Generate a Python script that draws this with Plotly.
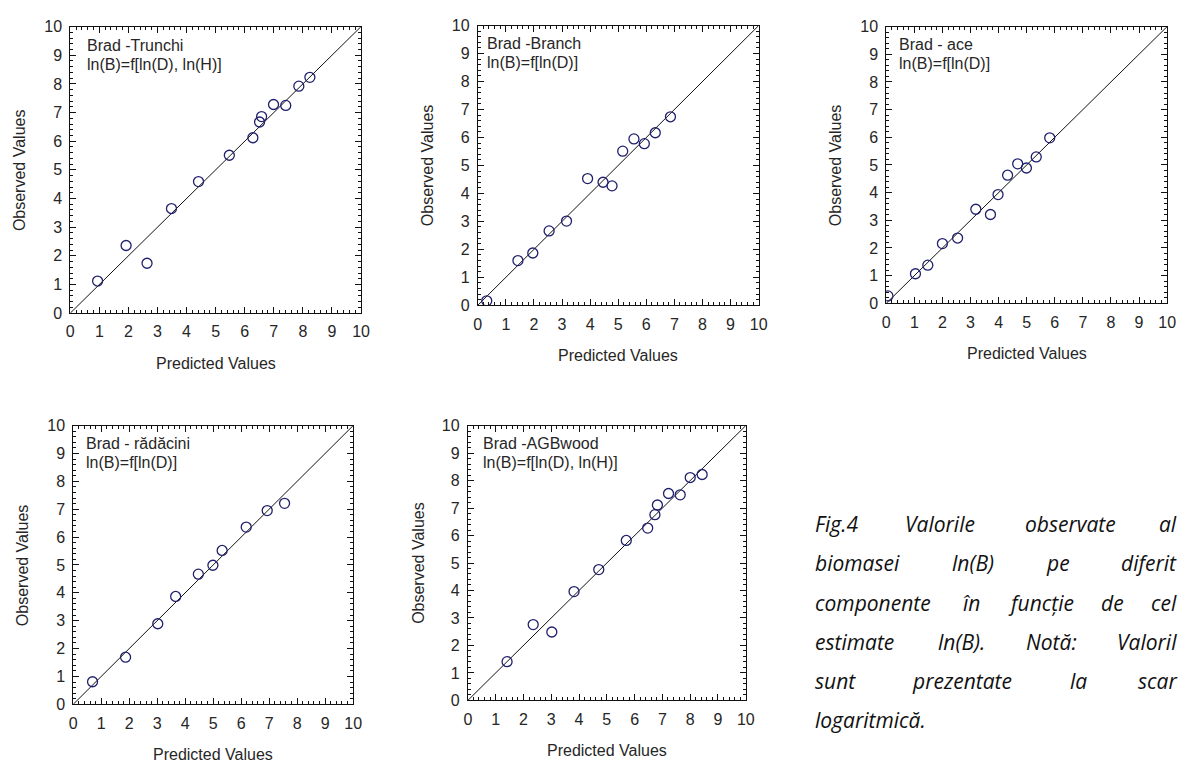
import plotly.graph_objects as go

# Observed vs. predicted ln(B) for each fir (Brad) biomass component
trunchi_pred = [0.94, 1.92, 2.64, 3.48, 4.41, 5.47, 6.28, 6.51, 6.58, 6.99, 7.41, 7.86, 8.24]
trunchi_obs = [1.12, 2.36, 1.74, 3.65, 4.59, 5.51, 6.12, 6.67, 6.86, 7.28, 7.25, 7.92, 8.23]

branch_pred = [0.32, 1.43, 1.96, 2.54, 3.16, 3.91, 4.46, 4.78, 5.16, 5.56, 5.93, 6.32, 6.86]
branch_obs = [0.16, 1.60, 1.87, 2.66, 3.01, 4.53, 4.40, 4.27, 5.51, 5.95, 5.78, 6.17, 6.74]

ace_pred = [0.06, 1.04, 1.48, 2.00, 2.54, 3.19, 3.71, 3.98, 4.32, 4.68, 4.99, 5.34, 5.82]
ace_obs = [0.27, 1.07, 1.38, 2.16, 2.36, 3.40, 3.21, 3.93, 4.63, 5.04, 4.89, 5.29, 5.98]

radacini_pred = [0.69, 1.87, 3.02, 3.66, 4.47, 4.99, 5.32, 6.18, 6.93, 7.55]
radacini_obs = [0.81, 1.69, 2.89, 3.87, 4.67, 4.99, 5.52, 6.36, 6.95, 7.21]

agb_pred = [1.41, 2.35, 3.02, 3.82, 4.71, 5.70, 6.47, 6.73, 6.82, 7.22, 7.64, 8.00, 8.43]
agb_obs = [1.41, 2.76, 2.49, 3.96, 4.76, 5.82, 6.27, 6.76, 7.11, 7.53, 7.48, 8.11, 8.22]

panel_names = ["Brad -Trunchi", "Brad -Branch", "Brad - ace", "Brad - rădăcini", "Brad -AGBwood"]
panel_models = ["ln(B)=f[ln(D), ln(H)]", "ln(B)=f[ln(D)]", "ln(B)=f[ln(D)]",
                "ln(B)=f[ln(D)]", "ln(B)=f[ln(D), ln(H)]"]
identity_line = [0, 10]
tick_values = list(range(0, 11))
x_title = "Predicted Values"
y_title = "Observed Values"

caption_lines = [
    ["Fig.4", "Valorile", "observate", "al"],
    ["biomasei", "ln(B)", "pe", "diferit"],
    ["componente", "în", "funcție", "de", "cel"],
    ["estimate", "ln(B).", "Notă:", "Valoril"],
    ["sunt", "prezentate", "la", "scar"],
    ["logaritmică."],
]

W, H = 1188, 772
# plot-area boxes in pixels: (left, right, top, bottom)
boxes = [(67, 361, 19, 312), (479, 763, 18, 304), (892, 1176, 19, 302),
         (70, 353, 427, 712), (469, 750, 427, 708)]
label_x = [0.5, 0.25, 0.39, 0.39, 0.46]

series = [(trunchi_pred, trunchi_obs), (branch_pred, branch_obs), (ace_pred, ace_obs),
          (radacini_pred, radacini_obs), (agb_pred, agb_obs)]

fig = go.Figure()
FONT = "Arial, Liberation Sans, sans-serif"
TXT = "#262626"
annotations = []

for i, ((px, py), (l, r, t, b)) in enumerate(zip(series, boxes)):
    n = "" if i == 0 else str(i + 1)
    xa, ya = "x" + n, "y" + n
    fig.add_trace(go.Scatter(x=identity_line, y=identity_line, mode="lines",
                             line=dict(color="#111111", width=1),
                             xaxis=xa, yaxis=ya, showlegend=False, hoverinfo="skip"))
    fig.add_trace(go.Scatter(x=px, y=py, mode="markers",
                             marker=dict(symbol="circle-open", size=10,
                                         color="#20206e", line=dict(width=1.3, color="#20206e")),
                             xaxis=xa, yaxis=ya, showlegend=False))
    axis_common = dict(range=[0, 10], tickvals=tick_values, ticks="inside", ticklen=6,
                       tickcolor="#111111", showline=True, linecolor="#111111", linewidth=1,
                       mirror="allticks", showgrid=False, zeroline=False,
                       ticklabelstandoff=4,
                       tickfont=dict(family=FONT, size=16, color=TXT),
                       minor=dict(dtick=0.2, ticks="inside", ticklen=3, tickcolor="#111111"))
    fig.layout["xaxis" + n] = dict(domain=[l / W, r / W], anchor=ya, **axis_common)
    fig.layout["yaxis" + n] = dict(domain=[1 - b / H, 1 - t / H], anchor=xa, **axis_common)

    annotations.append(dict(text=x_title, xref=xa + " domain", yref=ya + " domain",
                            x=0.5, y=0, yanchor="middle", yshift=-50, showarrow=False,
                            font=dict(family=FONT, size=16, color=TXT)))
    annotations.append(dict(text=y_title, xref=xa + " domain", yref=ya + " domain",
                            x=0, y=0.5, xanchor="center", xshift=-50, textangle=-90,
                            showarrow=False, font=dict(family=FONT, size=16, color=TXT)))
    annotations.append(dict(text=panel_names[i], xref=xa, yref=ya, x=label_x[i], y=9.35,
                            xanchor="left", yanchor="middle", showarrow=False,
                            font=dict(family=FONT, size=16, color=TXT)))
    annotations.append(dict(text=panel_models[i], xref=xa, yref=ya, x=label_x[i], y=8.67,
                            xanchor="left", yanchor="middle", showarrow=False,
                            font=dict(family=FONT, size=16, color=TXT)))

# justified caption on the right, one word at a time: first word flush left,
# inner words centred on their slots, last word of a full line runs to the page edge
CAP_LEFT = 818
inner_centres = [
    [946, 1078],
    [980, 1066],
    [978, 1048, 1121],
    [968, 1059],
    [969, 1086],
    [],
]
line_y = [528, 568, 608, 648, 688, 728]
CAP_FONT = dict(family="Open Sans, sans-serif", size=21, color="#111111")


def caption_word(word, xpos, anchor, ypix):
    return dict(text="<i>" + word + "</i>", xref="paper", yref="paper",
                x=xpos / W, y=1 - ypix / H, xanchor=anchor, yanchor="middle",
                showarrow=False, font=CAP_FONT)


for words, centres, yy in zip(caption_lines, inner_centres, line_y):
    annotations.append(caption_word(words[0], CAP_LEFT, "left", yy))
    for w, cx in zip(words[1:-1], centres):
        annotations.append(caption_word(w, cx, "center", yy))
    if len(words) > 1:
        annotations.append(caption_word(words[-1], W, "right", yy))

fig.update_layout(width=W, height=H, margin=dict(l=0, r=0, t=0, b=0),
                  paper_bgcolor="white", plot_bgcolor="white", annotations=annotations)

fig.write_html("out.html")
